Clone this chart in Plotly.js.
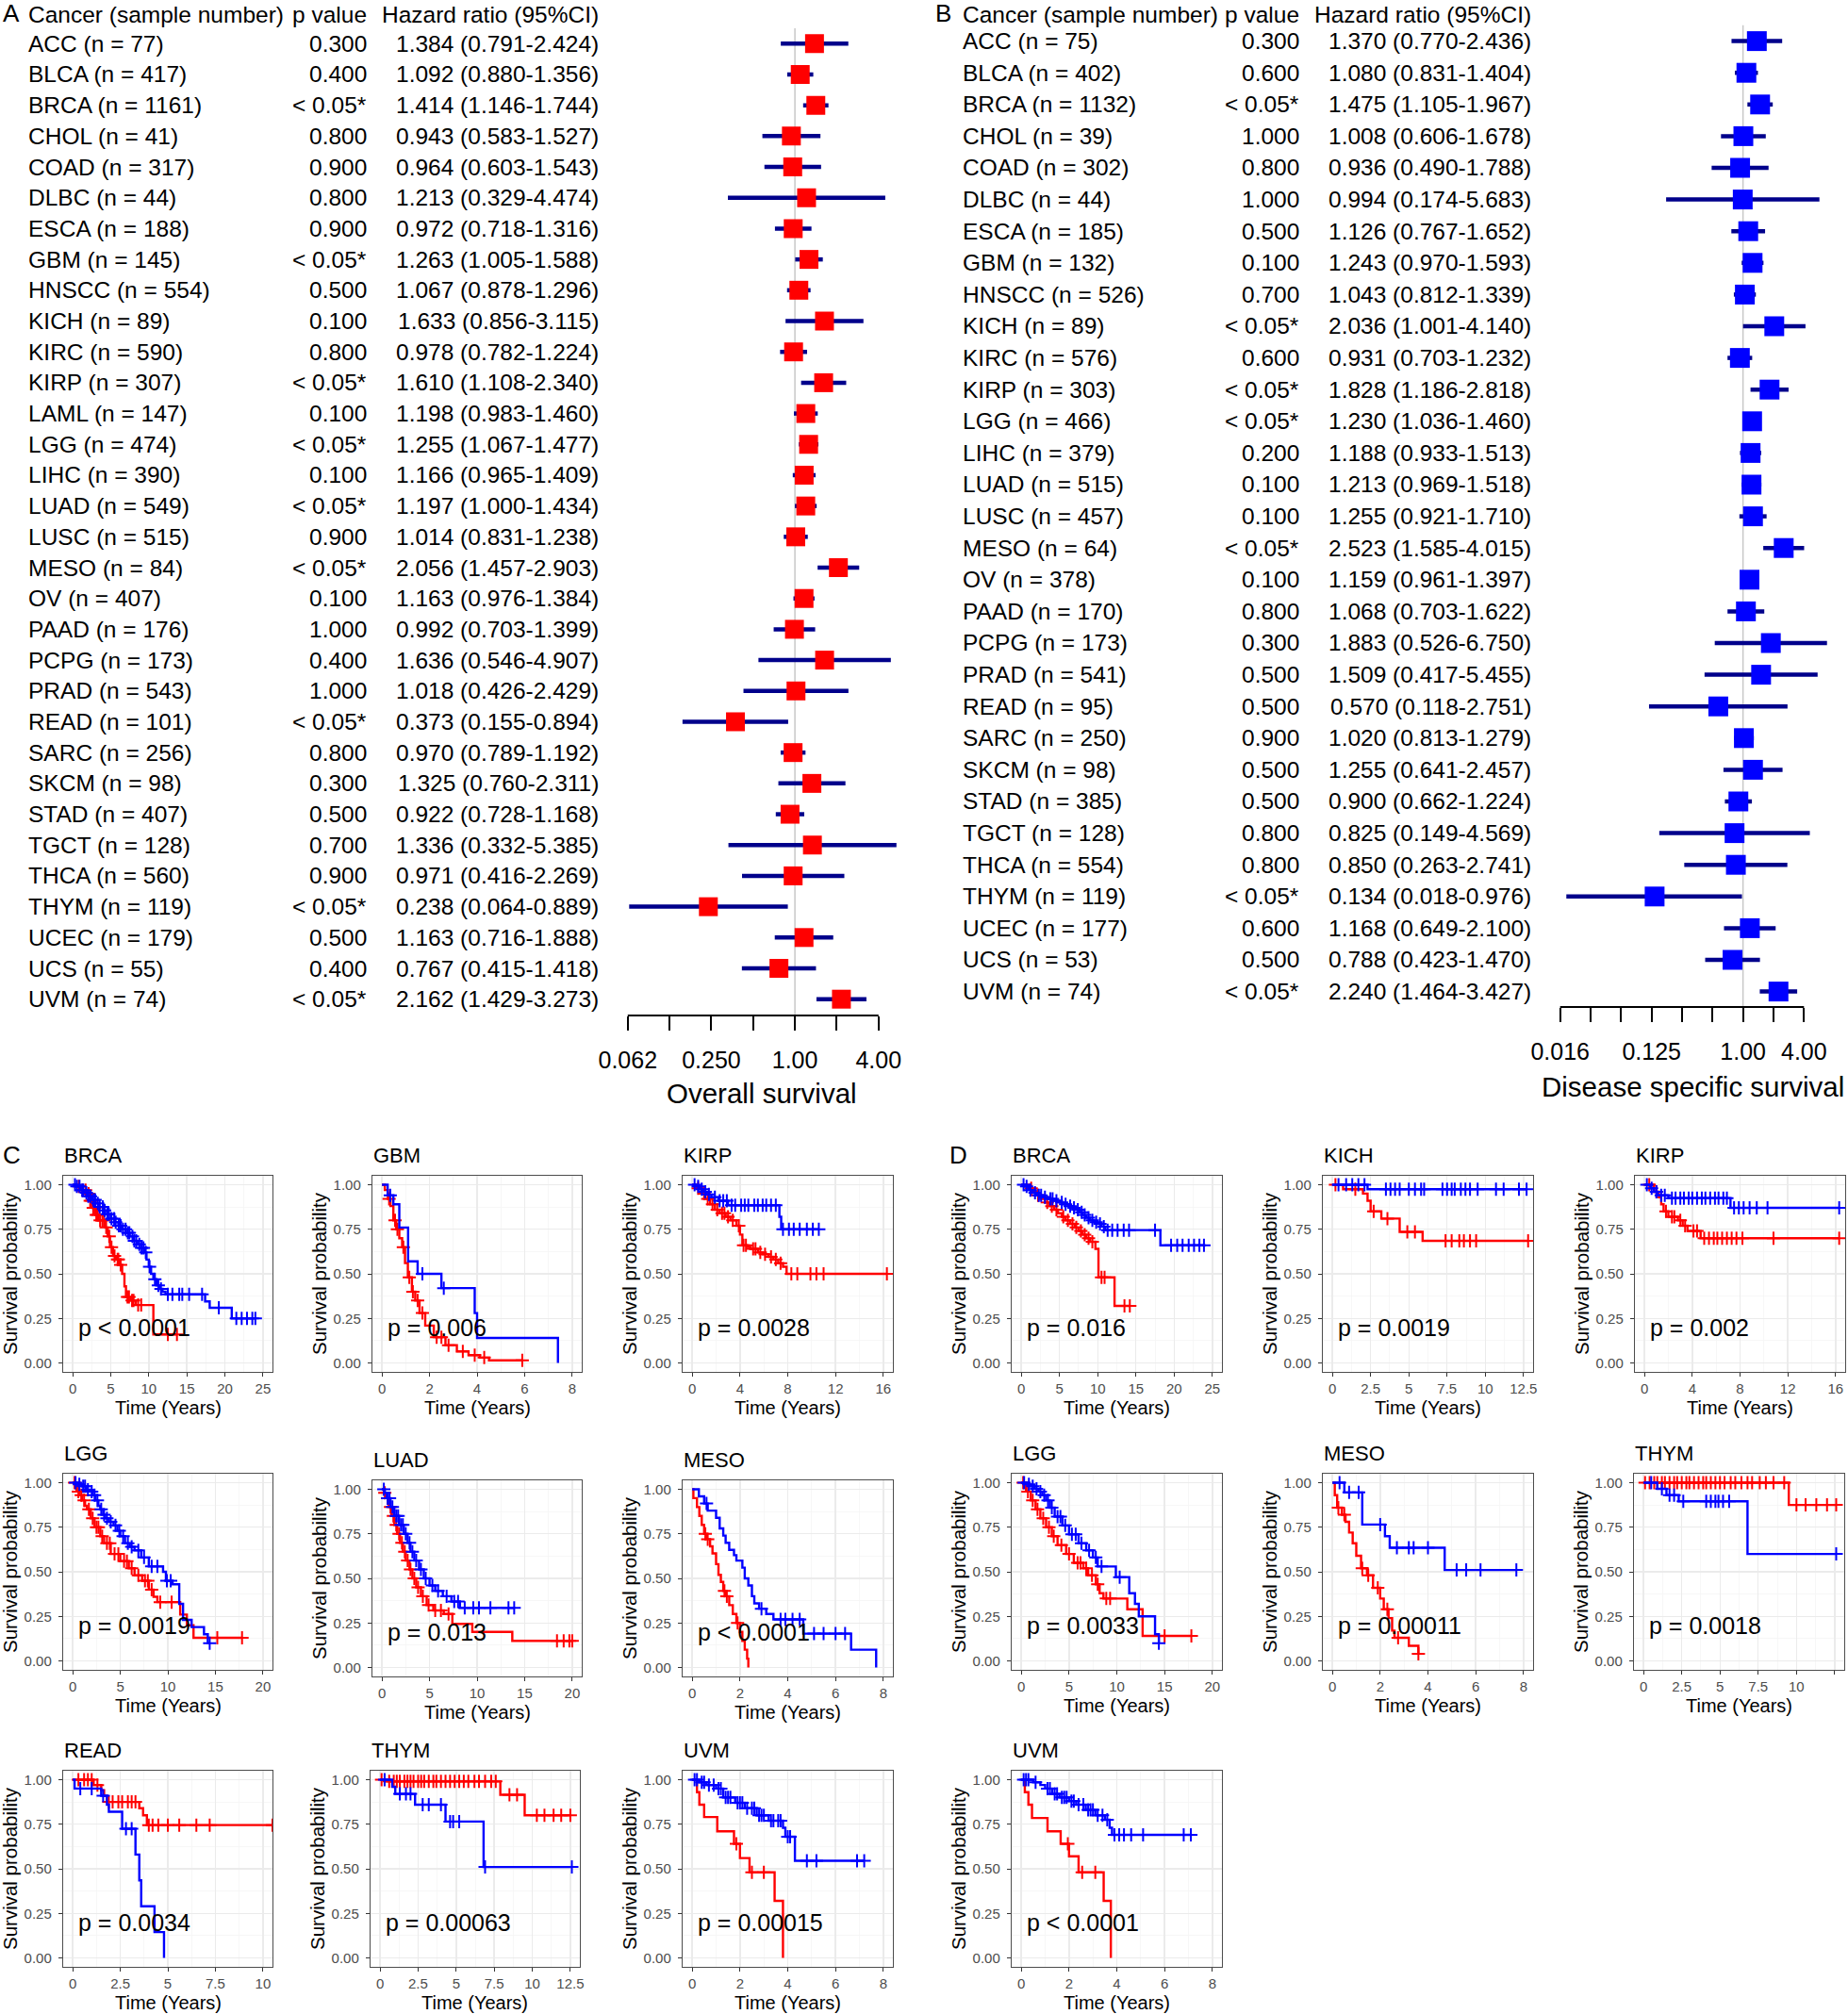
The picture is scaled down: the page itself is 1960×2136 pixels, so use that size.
<!DOCTYPE html>
<html><head><meta charset="utf-8">
<script src="https://cdn.plot.ly/plotly-3.0.1.min.js"></script>
<style>body{margin:0;background:#fff}#chart{width:1960px;height:2136px}</style>
</head><body><div id="chart"></div>
<script>
// ---------------- Panel A: overall survival ----------------
const osCancer = ['ACC','BLCA','BRCA','CHOL','COAD','DLBC','ESCA','GBM','HNSCC','KICH','KIRC','KIRP','LAML','LGG','LIHC','LUAD','LUSC','MESO','OV','PAAD','PCPG','PRAD','READ','SARC','SKCM','STAD','TGCT','THCA','THYM','UCEC','UCS','UVM'];
const osN = [77,417,1161,41,317,44,188,145,554,89,590,307,147,474,390,549,515,84,407,176,173,543,101,256,98,407,128,560,119,179,55,74];
const osP = ['0.300','0.400','< 0.05*','0.800','0.900','0.800','0.900','< 0.05*','0.500','0.100','0.800','< 0.05*','0.100','< 0.05*','0.100','< 0.05*','0.900','< 0.05*','0.100','1.000','0.400','1.000','< 0.05*','0.800','0.300','0.500','0.700','0.900','< 0.05*','0.500','0.400','< 0.05*'];
const osHR = [1.384,1.092,1.414,0.943,0.964,1.213,0.972,1.263,1.067,1.633,0.978,1.610,1.198,1.255,1.166,1.197,1.014,2.056,1.163,0.992,1.636,1.018,0.373,0.970,1.325,0.922,1.336,0.971,0.238,1.163,0.767,2.162];
const osLo = [0.791,0.880,1.146,0.583,0.603,0.329,0.718,1.005,0.878,0.856,0.782,1.108,0.983,1.067,0.965,1.000,0.831,1.457,0.976,0.703,0.546,0.426,0.155,0.789,0.760,0.728,0.332,0.416,0.064,0.716,0.415,1.429];
const osHi = [2.424,1.356,1.744,1.527,1.543,4.474,1.316,1.588,1.296,3.115,1.224,2.340,1.460,1.477,1.409,1.434,1.238,2.903,1.384,1.399,4.907,2.429,0.894,1.192,2.311,1.168,5.385,2.269,0.889,1.888,1.418,3.273];
const osTickVals = [0.0625,0.125,0.25,0.5,1,2,4];
const osTickText = ['0.062','','0.250','','1.00','','4.00'];

// ---------------- Panel B: disease specific survival ----------------
const dssCancer = ['ACC','BLCA','BRCA','CHOL','COAD','DLBC','ESCA','GBM','HNSCC','KICH','KIRC','KIRP','LGG','LIHC','LUAD','LUSC','MESO','OV','PAAD','PCPG','PRAD','READ','SARC','SKCM','STAD','TGCT','THCA','THYM','UCEC','UCS','UVM'];
const dssN = [75,402,1132,39,302,44,185,132,526,89,576,303,466,379,515,457,64,378,170,173,541,95,250,98,385,128,554,119,177,53,74];
const dssP = ['0.300','0.600','< 0.05*','1.000','0.800','1.000','0.500','0.100','0.700','< 0.05*','0.600','< 0.05*','< 0.05*','0.200','0.100','0.100','< 0.05*','0.100','0.800','0.300','0.500','0.500','0.900','0.500','0.500','0.800','0.800','< 0.05*','0.600','0.500','< 0.05*'];
const dssHR = [1.370,1.080,1.475,1.008,0.936,0.994,1.126,1.243,1.043,2.036,0.931,1.828,1.230,1.188,1.213,1.255,2.523,1.159,1.068,1.883,1.509,0.570,1.020,1.255,0.900,0.825,0.850,0.134,1.168,0.788,2.240];
const dssLo = [0.770,0.831,1.105,0.606,0.490,0.174,0.767,0.970,0.812,1.001,0.703,1.186,1.036,0.933,0.969,0.921,1.585,0.961,0.703,0.526,0.417,0.118,0.813,0.641,0.662,0.149,0.263,0.018,0.649,0.423,1.464];
const dssHi = [2.436,1.404,1.967,1.678,1.788,5.683,1.652,1.593,1.339,4.140,1.232,2.818,1.460,1.513,1.518,1.710,4.015,1.397,1.622,6.750,5.455,2.751,1.279,2.457,1.224,4.569,2.741,0.976,2.100,1.470,3.427];
const dssTickVals = [0.015625,0.03125,0.0625,0.125,0.25,0.5,1,2,4];
const dssTickText = ['0.016','','','0.125','','','1.00','','4.00'];

// ---------------- Kaplan-Meier curves (t = event times, s = survival, c = censor times) ----------------
// C: overall survival
const cBrcaHiT = [0,0.6,1.2,1.8,2.2,2.6,3.0,3.4,4.3,4.6,4.9,5.3,5.7,6.2,6.5,6.8,7.0,7.6,8.3,10.6];
const cBrcaHiS = [1,0.99,0.97,0.95,0.91,0.87,0.83,0.80,0.76,0.71,0.65,0.60,0.58,0.55,0.50,0.43,0.37,0.35,0.325,0.16];
const cBrcaHiC = [0.8,1.3,1.7,2.1,2.3,2.5,2.7,2.9,3.1,3.3,3.6,3.9,4.1,4.4,4.8,5.1,5.5,5.9,6.0,6.3,7.2,7.4,7.8,8.0,8.6,9.0,12.5,13.7];
const cBrcaLoT = [0,0.5,1,1.5,2,2.5,3,3.5,4,4.5,5,5.5,6,6.5,7,7.5,8,8.5,9,9.4,9.7,10.0,10.3,10.6,11.0,11.4,11.8,12.2,17.4,18.0,20.9];
const cBrcaLoS = [1,0.99,0.97,0.955,0.935,0.915,0.895,0.875,0.855,0.835,0.81,0.79,0.77,0.75,0.73,0.71,0.685,0.665,0.645,0.62,0.58,0.54,0.50,0.47,0.435,0.415,0.40,0.385,0.345,0.31,0.25];
const cBrcaLoC = [0.3,0.55,0.9,1.25,1.4,1.8,2.05,2.35,2.7,2.95,3.3,3.55,3.95,4.2,4.55,4.75,5.1,5.45,5.65,6.05,6.3,6.6,6.95,7.25,7.45,7.85,8.1,8.35,8.75,9.05,9.3,9.6,10.1,10.8,11.25,11.6,12.5,13.1,14.0,14.4,15.3,17.0,19.2,21.5,22.2,22.9,23.6,24.0];
const cGbmHiT = [0,0.12,0.25,0.36,0.48,0.6,0.73,0.85,0.97,1.09,1.26,1.4,1.58,1.82,2.18,2.67,3.15,3.64,4.12,4.5];
const cGbmHiS = [1,0.97,0.92,0.88,0.80,0.75,0.70,0.65,0.56,0.48,0.40,0.35,0.28,0.21,0.145,0.10,0.065,0.044,0.03,0.015];
const cGbmHiC = [0.3,0.55,0.65,0.9,1.15,1.3,1.5,1.7,2.3,2.5,2.8,3.4,3.9,4.3,5.9];
const cGbmLoT = [0,0.24,0.48,0.73,1.1,1.5,2.5,3.9,4.0,7.4];
const cGbmLoS = [1,0.94,0.89,0.76,0.57,0.50,0.42,0.28,0.14,0];
const cGbmLoC = [0.35,1.7,2.6];
const cKirpHiT = [0,0.4,0.8,1.1,1.5,1.9,2.3,2.8,3.2,3.7,4.0,4.2,4.6,4.9,5.5,5.9,6.4,6.8,7.2,7.6,7.9];
const cKirpHiS = [1,0.98,0.95,0.92,0.89,0.86,0.84,0.82,0.80,0.77,0.72,0.66,0.65,0.64,0.62,0.61,0.595,0.58,0.56,0.54,0.50];
const cKirpHiC = [0.5,1.0,1.3,1.7,2.1,2.5,2.7,3.0,3.4,3.9,4.3,4.5,5.1,5.3,5.7,6.1,6.6,7.0,7.4,8.3,8.8,9.9,10.4,11.0,16.3];
const cKirpLoT = [0,0.3,0.6,0.9,1.2,1.6,2.2,3.0,7.3,7.45];
const cKirpLoS = [1,0.99,0.975,0.96,0.945,0.93,0.91,0.885,0.82,0.75];
const cKirpLoC = [0.2,0.5,0.8,1.1,1.4,1.9,2.3,2.6,2.9,3.3,3.6,4.1,4.4,4.7,5.2,5.5,5.9,6.2,6.6,7.0,7.6,8.1,8.5,9.0,9.6,10.1,10.6];
const cLggHiT = [0,0.4,0.7,1.0,1.3,1.5,1.9,2.3,2.9,3.3,4.0,5.0,5.9,6.5,7.3,8.0,8.5,8.9,11.3,12.0,12.7];
const cLggHiS = [1,0.95,0.93,0.90,0.87,0.85,0.80,0.75,0.70,0.66,0.60,0.56,0.52,0.48,0.45,0.40,0.36,0.33,0.26,0.20,0.13];
const cLggHiC = [0.2,0.6,0.9,1.2,1.7,2.1,2.5,2.7,3.1,3.6,3.9,4.4,4.8,5.4,5.7,6.2,6.9,7.6,7.9,8.3,9.2,10.4,15.2,17.8];
const cLggLoT = [0,0.5,1.0,1.5,1.8,2.1,2.4,2.7,2.9,3.2,3.4,3.8,4.3,4.7,5.0,5.5,6.0,6.5,7.2,8.0,9.5,9.8,10.5,11.2,11.6,12.5,13.8,14.2];
const cLggLoS = [1,0.99,0.98,0.96,0.95,0.93,0.90,0.87,0.85,0.82,0.80,0.78,0.76,0.73,0.70,0.66,0.64,0.62,0.58,0.53,0.50,0.45,0.43,0.32,0.23,0.19,0.15,0.10];
const cLggLoC = [0.3,0.7,1.1,1.3,1.6,2.0,2.3,2.6,3.0,3.3,3.6,4.0,4.5,4.9,5.3,5.8,6.2,6.9,7.5,8.3,8.9,9.9,10.3,14.4];
const cLuadHiT = [0,0.2,0.4,0.7,1.0,1.3,1.6,1.9,2.2,2.5,2.9,3.2,3.6,4.1,4.7,5.4,6.5,7.4,9.5,13.7];
const cLuadHiS = [1,0.98,0.95,0.90,0.85,0.80,0.75,0.70,0.65,0.60,0.55,0.50,0.45,0.40,0.35,0.32,0.30,0.245,0.20,0.15];
const cLuadHiC = [0.3,0.6,0.9,1.2,1.5,1.8,2.1,2.4,2.7,3.0,3.4,3.8,4.3,4.9,5.6,6.2,7.0,18.4,19.1,19.7,20.0];
const cLuadLoT = [0,0.3,0.5,0.9,1.3,1.8,2.3,2.7,3.0,3.4,3.9,4.4,5.0,5.6,6.4,7.3,8.2];
const cLuadLoS = [1,0.98,0.95,0.90,0.85,0.80,0.75,0.70,0.65,0.60,0.55,0.50,0.46,0.43,0.40,0.37,0.335];
const cLuadLoC = [0.2,0.6,0.8,1.1,1.5,1.7,2.0,2.2,2.5,2.9,3.2,3.6,4.1,4.6,5.3,5.9,6.8,7.6,8.0,8.7,9.6,10.2,11.4,13.3,13.9];
const cMesoHiT = [0,0.05,0.2,0.3,0.4,0.5,0.6,0.75,0.85,1.0,1.1,1.2,1.3,1.4,1.55,1.7,1.85,2.0,2.1,2.2,2.3,2.35];
const cMesoHiS = [1,0.95,0.90,0.85,0.80,0.75,0.72,0.68,0.64,0.58,0.52,0.48,0.43,0.40,0.35,0.30,0.25,0.20,0.15,0.10,0.05,0];
const cMesoHiC = [0.55,0.65,1.35,1.45,1.9];
const cMesoLoT = [0,0.28,0.5,0.65,1.0,1.15,1.3,1.4,1.55,1.75,1.85,2.1,2.2,2.35,2.5,2.6,2.8,3.1,3.4,4.65,6.65,7.7];
const cMesoLoS = [1,0.96,0.92,0.88,0.84,0.78,0.74,0.70,0.66,0.63,0.60,0.56,0.50,0.46,0.40,0.36,0.33,0.30,0.27,0.19,0.10,0];
const cMesoLoC = [0.6,2.9,3.7,3.9,4.2,4.5,5.1,5.5,6.0,6.4];
const cReadHiT = [0,1.1,1.5,1.65,1.8,3.5,3.7,3.9];
const cReadHiS = [1,0.97,0.94,0.91,0.875,0.84,0.80,0.745];
const cReadHiC = [0.3,0.6,0.8,1.0,1.3,1.9,2.1,2.4,2.6,2.9,3.1,3.3,4.0,4.2,4.5,5.0,5.6,6.5,7.2,10.5];
const cReadLoT = [0,0.1,1.5,1.8,1.9,2.6,3.3,3.5,3.6,4.3,4.8];
const cReadLoS = [1,0.95,0.91,0.86,0.82,0.725,0.58,0.435,0.29,0.145,0];
const cReadLoC = [0.4,1.0,1.6,2.8,3.1];
const cThymHiT = [0,0.4,7.9,9.5];
const cThymHiS = [1,0.99,0.915,0.80];
const cThymHiC = [0.1,0.6,0.9,1.1,1.3,1.6,1.8,2.0,2.2,2.5,2.7,2.9,3.2,3.5,3.7,4.0,4.3,4.6,4.9,5.2,5.5,5.8,6.2,6.5,6.9,7.3,7.6,8.5,9.0,10.3,10.8,11.4,11.9,12.5];
const cThymLoT = [0,0.8,1.0,2.3,4.3,6.8];
const cThymLoS = [1,0.96,0.92,0.86,0.765,0.51];
const cThymLoC = [0.3,1.3,1.7,2.0,2.8,3.2,4.0,4.6,4.8,5.2,6.9,12.6];
const cUvmHiT = [0,0.2,0.3,0.5,1.05,1.75,2.0,2.4,3.45,3.8];
const cUvmHiS = [1,0.93,0.86,0.79,0.71,0.64,0.56,0.48,0.32,0];
const cUvmHiC = [1.85,2.5,3.0];
const cUvmLoT = [0,0.3,0.6,1.0,1.3,1.8,2.2,2.7,3.2,3.8,3.9,4.3];
const cUvmLoS = [1,0.985,0.97,0.95,0.90,0.87,0.84,0.80,0.77,0.73,0.68,0.545];
const cUvmLoC = [0.1,0.2,0.4,0.5,0.7,0.9,1.1,1.2,1.4,1.5,1.6,1.9,2.0,2.1,2.3,2.5,2.6,2.8,2.9,3.0,3.3,3.4,3.6,3.7,4.0,4.1,4.8,5.2,6.9,7.2];
// D: disease specific survival
const dBrcaHiT = [0,1.0,1.5,2.0,2.5,3.1,3.7,4.3,4.8,5.3,5.8,6.4,7.0,7.5,8.0,8.5,9.0,9.7,10.1,12.2];
const dBrcaHiS = [1,0.98,0.96,0.94,0.92,0.90,0.88,0.86,0.84,0.82,0.80,0.78,0.76,0.74,0.72,0.70,0.68,0.64,0.48,0.32];
const dBrcaHiC = [1.3,2.2,3.4,4.0,4.6,5.5,6.1,6.7,7.2,7.8,8.3,8.8,9.3,10.5,10.9,13.5,14.2];
const dBrcaLoT = [0,0.5,1,1.5,2,2.8,3.5,4.3,5,5.6,6.2,6.7,7.2,7.6,8.0,8.5,9.0,9.5,10,10.5,11,18.2];
const dBrcaLoS = [1,0.99,0.97,0.955,0.94,0.93,0.92,0.91,0.90,0.89,0.88,0.87,0.86,0.845,0.83,0.815,0.80,0.79,0.78,0.765,0.745,0.66];
const dBrcaLoC = [0.3,0.7,1.2,1.8,2.3,2.6,3.1,3.8,4.1,4.6,5.3,5.8,6.4,6.9,7.4,7.9,8.3,8.8,9.3,9.8,10.3,10.8,11.3,11.9,12.6,13.4,14.1,17.5,19.6,20.4,21.1,21.9,22.6,23.3,23.9];
const dKichHiT = [0,0.7,2.0,2.3,2.5,3.2,4.4,5.9];
const dKichHiS = [1,0.975,0.95,0.91,0.85,0.81,0.735,0.685];
const dKichHiC = [0.2,1.5,2.7,3.6,4.9,5.4,7.4,7.8,8.3,8.6,9.0,9.4,12.8];
const dKichLoT = [0,2.3];
const dKichLoS = [1,0.975];
const dKichLoC = [0.4,0.9,1.3,1.7,2.1,3.5,3.8,4.1,4.4,5.0,5.4,5.8,6.0,7.2,7.5,7.8,8.0,8.4,8.7,9.0,9.5,10.7,11.2,12.2,12.7];
const dKirpHiT = [0,0.8,1.2,1.4,1.6,2.0,2.8,3.2,3.6,4.7];
const dKirpHiS = [1,0.96,0.93,0.89,0.85,0.82,0.80,0.77,0.74,0.70];
const dKirpHiC = [0.4,1.0,1.8,2.3,2.5,3.0,3.4,4.1,4.4,5.0,5.4,5.8,6.1,6.5,6.9,7.3,7.7,8.2,10.8,16.3];
const dKirpLoT = [0,0.5,0.8,1.1,2.0,7.2];
const dKirpLoS = [1,0.98,0.96,0.94,0.925,0.87];
const dKirpLoC = [0.2,0.6,1.0,1.4,1.7,2.3,2.6,3.0,3.3,3.7,4.0,4.4,4.8,5.1,5.5,5.9,6.2,6.6,6.9,7.5,7.9,8.3,8.8,9.4,10.3,16.3];
const dLggHiT = [0,0.5,1.0,1.5,2.0,2.6,3.2,3.8,4.7,5.5,6.5,7.0,7.8,8.2,8.6,11.1,12.7];
const dLggHiS = [1,0.95,0.90,0.85,0.80,0.75,0.70,0.65,0.60,0.55,0.52,0.48,0.43,0.38,0.35,0.29,0.14];
const dLggHiC = [0.2,0.7,1.2,1.7,2.3,2.9,3.4,4.2,5.0,5.9,6.2,6.8,7.4,8.0,8.9,9.3,15.0,17.8];
const dLggLoT = [0,0.6,1.0,1.4,1.8,2.2,2.6,3.0,3.5,4.3,5.0,6.0,6.8,7.5,8.0,9.9,11.3,11.9,12.3,14.0,14.4];
const dLggLoS = [1,0.99,0.98,0.965,0.95,0.93,0.90,0.86,0.81,0.76,0.71,0.66,0.62,0.58,0.53,0.47,0.38,0.32,0.25,0.15,0.10];
const dLggLoC = [0.3,0.8,1.2,1.6,2.0,2.4,2.8,3.2,3.8,4.1,4.6,5.3,5.7,6.3,7.1,7.8,8.4,10.3,14.4];
const dMesoHiT = [0,0.1,0.2,0.4,0.55,0.7,0.85,1.0,1.2,1.45,1.7,2.0,2.15,2.35,2.5,2.6,3.2,3.6];
const dMesoHiS = [1,0.93,0.86,0.82,0.78,0.72,0.66,0.59,0.52,0.48,0.41,0.35,0.29,0.24,0.17,0.13,0.085,0.04];
const dMesoHiC = [0.25,0.5,1.25,1.5,1.9,2.3,2.75,3.6];
const dMesoLoT = [0,0.5,1.25,2.2,2.4,4.7];
const dMesoLoS = [1,0.945,0.765,0.70,0.635,0.51];
const dMesoLoC = [0.3,0.7,1.1,2.0,2.7,3.2,3.4,4.0,5.2,5.6,6.2,7.7];
const dThymHiT = [0,9.5];
const dThymHiS = [1,0.875];
const dThymHiC = [0.1,0.4,0.7,0.9,1.2,1.4,1.7,2.0,2.2,2.5,2.8,3.0,3.3,3.6,3.9,4.1,4.4,4.7,5.0,5.3,5.7,6.0,6.4,6.8,7.1,7.6,8.0,8.5,9.2,10.0,10.6,11.3,12.0,12.6];
const dThymLoT = [0,0.9,1.5,2.3,6.8];
const dThymLoS = [1,0.965,0.93,0.895,0.60];
const dThymLoC = [0.5,1.2,1.7,2.0,2.6,4.1,4.4,4.7,4.9,5.2,5.6,12.6];
const dUvmHiT = [0,0.15,0.3,0.45,1.1,1.65,2.0,2.4,3.45,3.75];
const dUvmHiS = [1,0.93,0.86,0.785,0.71,0.64,0.57,0.48,0.32,0];
const dUvmHiC = [1.95,2.55,3.1];
const dUvmLoT = [0,0.5,0.8,1.0,1.3,1.6,2.0,2.3,2.7,3.1,3.5,3.7,3.8];
const dUvmLoS = [1,0.985,0.97,0.95,0.92,0.90,0.88,0.86,0.83,0.80,0.775,0.73,0.69];
const dUvmLoC = [0.1,0.2,0.3,0.6,1.1,1.2,1.4,1.5,1.7,1.8,1.9,2.1,2.2,2.4,2.6,2.8,2.9,3.0,3.2,3.4,3.6,3.9,4.1,4.3,4.6,5.1,6.8,7.1];

// ---------------- build ----------------
const W = 1960, H = 2136;
const FONT = 'Liberation Sans, Arial, Helvetica, sans-serif';
const px = v => v / W;
const py = v => 1 - v / H;
const traces = [], annotations = [], shapes = [];
const layout = {
  width: W, height: H, margin: {l:0, r:0, t:0, b:0},
  paper_bgcolor: '#fff', plot_bgcolor: 'rgba(0,0,0,0)',
  showlegend: false, font: {family: FONT, color: '#000'}
};

function txt(x, y, text, opts) {
  annotations.push(Object.assign({
    xref: 'paper', yref: 'paper', x: x, y: y, text: text, showarrow: false,
    xanchor: 'left', yanchor: 'middle', font: {size: 24.5, color: '#000', family: FONT}
  }, opts || {}));
}

function forest(cfg) {
  const {ax, cancer, n, p, hr, lo, hi, tv, tt, color, msize, dom, rowTop, rowStep, axisY, refPx, pxPerLog2,
         nameX, pX, hrX, headY, letter, letterX, letterY, title, titleX, titleY} = cfg;
  const xa = ax === 1 ? 'xaxis' : 'xaxis' + ax, ya = ax === 1 ? 'yaxis' : 'yaxis' + ax;
  const xr = ax === 1 ? 'x' : 'x' + ax, yr = ax === 1 ? 'y' : 'y' + ax;
  const rows = cancer.length;
  const rowBottom = (axisY - rowTop) / rowStep;
  const pxPerLog10 = pxPerLog2 / Math.LOG10E / Math.LN2;
  layout[xa] = {
    domain: [px(dom[0]), px(dom[1])], type: 'log',
    range: [(dom[0] - refPx) / pxPerLog10, (dom[1] - refPx) / pxPerLog10],
    tickmode: 'array', tickvals: tv, ticktext: tt, ticks: 'outside', ticklen: 15, tickwidth: 2, tickcolor: '#000',
    showline: false, showgrid: false, zeroline: false, anchor: yr, ticklabelstandoff: 10,
    tickfont: {size: 25, color: '#000', family: FONT}
  };
  layout[ya] = {domain: [py(axisY), py(rowTop - rowStep)], range: [rowBottom, -1], visible: false, anchor: xr};
  const cx = [], cy = [];
  for (let i = 0; i < rows; i++) { cx.push(lo[i], hi[i], null); cy.push(i, i, null); }
  traces.push({type: 'scatter', mode: 'lines', x: cx, y: cy, xaxis: xr, yaxis: yr,
    line: {color: '#00008B', width: 4.5}, hoverinfo: 'skip'});
  traces.push({type: 'scatter', mode: 'markers', x: hr, y: cancer.map((c, i) => i), xaxis: xr, yaxis: yr,
    marker: {symbol: 'square', size: msize, color: color, line: {width: 0}}});
  shapes.push({type: 'line', xref: xr, yref: yr, x0: 1, x1: 1, y0: -0.5, y1: rowBottom,
    line: {color: '#C8C8C8', width: 1.5}, layer: 'below'});
  shapes.push({type: 'line', xref: xr, yref: yr + ' domain', x0: tv[0], x1: tv[tv.length - 1], y0: 0, y1: 0,
    line: {color: '#000', width: 2}});
  // table text
  const f = {size: 24.5, color: '#000', family: FONT};
  txt(px(nameX), py(headY), 'Cancer (sample number)', {font: f});
  txt(px(pX), py(headY), 'p value', {xanchor: 'right', font: f});
  txt(px(hrX), py(headY), 'Hazard ratio (95%CI)', {xanchor: 'right', font: f});
  txt(px(letterX), py(letterY), letter, {font: {size: 26, color: '#000', family: FONT}});
  for (let i = 0; i < rows; i++) {
    txt(px(nameX), i, cancer[i] + ' (n = ' + n[i] + ')', {yref: yr, font: f});
    txt(px(pX), i, p[i], {yref: yr, xanchor: 'right', font: f});
    txt(px(hrX), i, hr[i].toFixed(3) + ' (' + lo[i].toFixed(3) + '-' + hi[i].toFixed(3) + ')', {yref: yr, xanchor: 'right', font: f});
  }
  txt(px(titleX), py(titleY), title, {xanchor: 'center', font: {size: 29.5, color: '#000', family: FONT}});
}

forest({ax: 1, cancer: osCancer, n: osN, p: osP, hr: osHR, lo: osLo, hi: osHi, tv: osTickVals, tt: osTickText,
  color: '#FF0000', msize: 20, dom: [640, 980], rowTop: 46.3, rowStep: 32.69, axisY: 1077, refPx: 843.1, pxPerLog2: 44.33,
  nameX: 28, pX: 391, hrX: 637, headY: 15, letter: 'A', letterX: 1, letterY: 14, title: 'Overall survival', titleX: 808, titleY: 1159});
forest({ax: 2, cancer: dssCancer, n: dssN, p: dssP, hr: dssHR, lo: dssLo, hi: dssHi, tv: dssTickVals, tt: dssTickText,
  color: '#0000FF', msize: 21, dom: [1640, 1958], rowTop: 43.6, rowStep: 33.6, axisY: 1068, refPx: 1848.65, pxPerLog2: 32.33,
  nameX: 1019, pX: 1380, hrX: 1626, headY: 15, letter: 'B', letterX: 990, letterY: 14, title: 'Disease specific survival', titleX: 1795, titleY: 1152});

// KM panels
const kmPanels = [
  {name: 'BRCA', hi: [cBrcaHiT, cBrcaHiS, cBrcaHiC], lo: [cBrcaLoT, cBrcaLoS, cBrcaLoC], M: 25, dt: 5, p: 'p < 0.0001', box: [67, 289, 1247, 1455]},
  {name: 'GBM', hi: [cGbmHiT, cGbmHiS, cGbmHiC], lo: [cGbmLoT, cGbmLoS, cGbmLoC], M: 8, dt: 2, p: 'p = 0.006', box: [395, 617, 1247, 1455]},
  {name: 'KIRP', hi: [cKirpHiT, cKirpHiS, cKirpHiC], lo: [cKirpLoT, cKirpLoS, cKirpLoC], M: 16, dt: 4, p: 'p = 0.0028', box: [724, 947, 1247, 1455]},
  {name: 'LGG', hi: [cLggHiT, cLggHiS, cLggHiC], lo: [cLggLoT, cLggLoS, cLggLoC], M: 20, dt: 5, p: 'p = 0.0019', box: [67, 289, 1563, 1771]},
  {name: 'LUAD', hi: [cLuadHiT, cLuadHiS, cLuadHiC], lo: [cLuadLoT, cLuadLoS, cLuadLoC], M: 20, dt: 5, p: 'p = 0.013', box: [395, 617, 1570, 1778]},
  {name: 'MESO', hi: [cMesoHiT, cMesoHiS, cMesoHiC], lo: [cMesoLoT, cMesoLoS, cMesoLoC], M: 8, dt: 2, p: 'p < 0.0001', box: [724, 947, 1570, 1778]},
  {name: 'READ', hi: [cReadHiT, cReadHiS, cReadHiC], lo: [cReadLoT, cReadLoS, cReadLoC], M: 10, dt: 2.5, p: 'p = 0.0034', box: [67, 289, 1878, 2086]},
  {name: 'THYM', hi: [cThymHiT, cThymHiS, cThymHiC], lo: [cThymLoT, cThymLoS, cThymLoC], M: 12.5, dt: 2.5, p: 'p = 0.00063', box: [393, 615, 1878, 2086]},
  {name: 'UVM', hi: [cUvmHiT, cUvmHiS, cUvmHiC], lo: [cUvmLoT, cUvmLoS, cUvmLoC], M: 8, dt: 2, p: 'p = 0.00015', box: [724, 947, 1878, 2086]},
  {name: 'BRCA', hi: [dBrcaHiT, dBrcaHiS, dBrcaHiC], lo: [dBrcaLoT, dBrcaLoS, dBrcaLoC], M: 25, dt: 5, p: 'p = 0.016', box: [1073, 1296, 1247, 1455]},
  {name: 'KICH', hi: [dKichHiT, dKichHiS, dKichHiC], lo: [dKichLoT, dKichLoS, dKichLoC], M: 12.5, dt: 2.5, p: 'p = 0.0019', box: [1403, 1626, 1247, 1455]},
  {name: 'KIRP', hi: [dKirpHiT, dKirpHiS, dKirpHiC], lo: [dKirpLoT, dKirpLoS, dKirpLoC], M: 16, dt: 4, p: 'p = 0.002', box: [1734, 1957, 1247, 1455]},
  {name: 'LGG', hi: [dLggHiT, dLggHiS, dLggHiC], lo: [dLggLoT, dLggLoS, dLggLoC], M: 20, dt: 5, p: 'p = 0.0033', box: [1073, 1296, 1563, 1771]},
  {name: 'MESO', hi: [dMesoHiT, dMesoHiS, dMesoHiC], lo: [dMesoLoT, dMesoLoS, dMesoLoC], M: 8, dt: 2, p: 'p = 0.00011', box: [1403, 1626, 1563, 1771]},
  {name: 'THYM', hi: [dThymHiT, dThymHiS, dThymHiC], lo: [dThymLoT, dThymLoS, dThymLoC], M: 12.5, dt: 2.5, p: 'p = 0.0018', box: [1733, 1956, 1563, 1771]},
  {name: 'UVM', hi: [dUvmHiT, dUvmHiS, dUvmHiC], lo: [dUvmLoT, dUvmLoS, dUvmLoC], M: 8, dt: 2, p: 'p < 0.0001', box: [1073, 1296, 1878, 2086]}
];

function survAt(t, s, c) { let v = s[0]; for (let i = 0; i < t.length; i++) { if (t[i] <= c) v = s[i]; } return v; }

function addCurve(curve, color, xr, yr) {
  const [t, s, c] = curve;
  const end = Math.max(t[t.length - 1], c.length ? Math.max(...c) : 0);
  const x = t.slice(), y = s.slice();
  if (end > t[t.length - 1]) { x.push(end); y.push(s[s.length - 1]); }
  traces.push({type: 'scatter', mode: 'lines', x: x, y: y, xaxis: xr, yaxis: yr,
    line: {color: color, width: 2.4, shape: 'hv'}, hoverinfo: 'skip'});
  traces.push({type: 'scatter', mode: 'markers', x: c, y: c.map(v => survAt(t, s, v)), xaxis: xr, yaxis: yr,
    marker: {symbol: 'cross-thin', size: 10, color: color, line: {color: color, width: 2}}, hoverinfo: 'skip'});
}

kmPanels.forEach((pnl, k) => {
  const ax = k + 3;
  const xa = 'xaxis' + ax, ya = 'yaxis' + ax, xr = 'x' + ax, yr = 'y' + ax;
  const [L, R, T, B] = pnl.box;
  layout[xa] = {
    domain: [px(L), px(R)], range: [-0.05 * pnl.M, 1.05 * pnl.M], tick0: 0, dtick: pnl.dt, anchor: yr,
    showgrid: true, gridcolor: '#EBEBEB', gridwidth: 1.4, zeroline: false,
    minor: {dtick: pnl.dt / 2, tick0: 0, showgrid: true, gridcolor: '#F5F5F5', gridwidth: 0.8},
    showline: true, mirror: true, linecolor: '#4D4D4D', linewidth: 1.2,
    ticks: 'outside', ticklen: 4, tickcolor: '#333', tickwidth: 1,
    tickfont: {size: 15, color: '#4D4D4D', family: FONT}
  };
  layout[ya] = {
    domain: [py(B), py(T)], range: [-0.05, 1.05], tick0: 0, dtick: 0.25, tickformat: '.2f', anchor: xr,
    showgrid: true, gridcolor: '#EBEBEB', gridwidth: 1.4, zeroline: false,
    minor: {dtick: 0.125, tick0: 0, showgrid: true, gridcolor: '#F5F5F5', gridwidth: 0.8},
    showline: true, mirror: true, linecolor: '#4D4D4D', linewidth: 1.2,
    ticks: 'outside', ticklen: 4, tickcolor: '#333', tickwidth: 1, ticklabelstandoff: 4,
    tickfont: {size: 15, color: '#4D4D4D', family: FONT}
  };
  addCurve(pnl.hi, '#FF0000', xr, yr);
  addCurve(pnl.lo, '#0000FF', xr, yr);
  txt(px(L - 1), py(T - 22), pnl.name, {font: {size: 22, color: '#000', family: FONT}});
  txt(px(L - 57), py((T + B) / 2), 'Survival probability', {xanchor: 'center', textangle: -90, font: {size: 20.5, color: '#000', family: FONT}});
  txt(px((L + R) / 2), py(B + 38), 'Time (Years)', {xanchor: 'center', font: {size: 20, color: '#000', family: FONT}});
  txt(0.02 * pnl.M, 0.2, pnl.p, {xref: xr, yref: yr, font: {size: 25, color: '#000', family: FONT}});
});

txt(px(1), py(1225), 'C', {font: {size: 26, color: '#000', family: FONT}});
txt(px(1005), py(1225), 'D', {font: {size: 26, color: '#000', family: FONT}});

layout.annotations = annotations;
layout.shapes = shapes;
Plotly.newPlot('chart', traces, layout, {staticPlot: true, displayModeBar: false});
</script></body></html>
